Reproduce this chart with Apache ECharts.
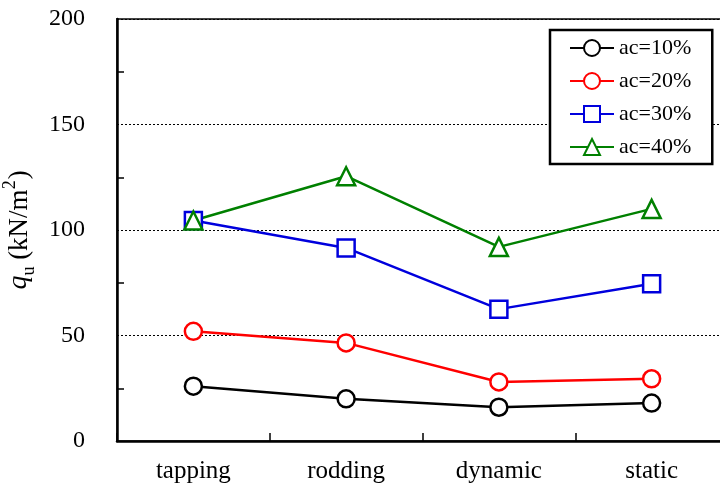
<!DOCTYPE html>
<html>
<head>
<meta charset="utf-8">
<script src="https://cdn.jsdelivr.net/npm/echarts@6/dist/echarts.min.js"></script>
<style>
  html, body { margin: 0; padding: 0; background: #fff; }
  #chart { width: 720px; height: 493px; }
</style>
</head>
<body>
<div id="chart"></div>
<script>
// Compaction methods along the x axis
var categories = ['tapping', 'rodding', 'dynamic', 'static'];

// Unconfined compressive strength q_u (kN/m2) for each ash content
var ac10 = [26, 20, 16, 18];
var ac20 = [52, 46.5, 28, 29.5];
var ac30 = [104.5, 91.5, 62.5, 74.5];
var ac40 = [104.5, 125.5, 92, 110];

var seriesNames = ['ac=10%', 'ac=20%', 'ac=30%', 'ac=40%'];
var yTicks = [0, 50, 100, 150, 200];

var FONT = '"Liberation Serif", "Times New Roman", serif';

function makeSeries(name, data, color, symbol, size) {
  return {
    name: name,
    type: 'line',
    data: data,
    symbol: symbol,
    symbolSize: size,
    showAllSymbol: true,
    lineStyle: { color: color, width: 2.5 },
    itemStyle: { color: '#fff', borderColor: color, borderWidth: 2.5 },
    emphasis: { disabled: true },
    z: 3
  };
}

var chart = echarts.init(document.getElementById('chart'), null, { renderer: 'canvas' });

chart.setOption({
  animation: false,
  backgroundColor: '#fff',
  grid: {
    left: 117, top: 19, bottom: 52, right: -8,
    outerBoundsMode: 'none',
    containLabel: false,
    show: true, borderColor: '#444', borderWidth: 2, backgroundColor: 'transparent'
  },
  legend: {
    orient: 'vertical',
    left: 550, top: 30,
    padding: [7, 21, 6, 19],
    itemGap: 11,
    itemWidth: 44,
    itemHeight: 20,
    borderColor: '#000',
    borderWidth: 2.5,
    backgroundColor: '#fff',
    data: seriesNames,
    textStyle: { fontFamily: FONT, fontSize: 22, color: '#000' }
  },
  xAxis: {
    type: 'category',
    data: categories,
    boundaryGap: true,
    axisLine: { lineStyle: { color: '#000', width: 2.5 } },
    axisTick: { show: true, inside: true, length: 8, interval: 0, lineStyle: { color: '#000', width: 1.5 } },
    axisLabel: { fontFamily: FONT, fontSize: 25, color: '#000', margin: 18, interval: 0 },
    splitLine: { show: false }
  },
  yAxis: {
    type: 'value',
    min: yTicks[0],
    max: yTicks[yTicks.length - 1],
    interval: 50,
    name: '{q|q}{sub|u}{n| (kN/m}{sup|2}{n|)}',
    nameLocation: 'middle',
    nameGap: 69,
    nameRotate: 90,
    nameTextStyle: {
      fontFamily: FONT, fontSize: 26, color: '#000',
      rich: {
        q: { fontFamily: FONT, fontSize: 28, fontStyle: 'italic', color: '#000', verticalAlign: 'bottom', lineHeight: 32 },
        sub: { fontFamily: FONT, fontSize: 18, color: '#000', verticalAlign: 'bottom', lineHeight: 32, padding: [0, 0, -5, 0] },
        n: { fontFamily: FONT, fontSize: 27, color: '#000', verticalAlign: 'bottom', lineHeight: 32 },
        sup: { fontFamily: FONT, fontSize: 18, color: '#000', verticalAlign: 'top', lineHeight: 32, padding: [0, 1, 0, 0] }
      }
    },
    axisLine: { show: true, lineStyle: { color: '#000', width: 2.5 } },
    axisTick: { show: false, inside: true },
    minorTick: { show: true, splitNumber: 2, length: 7, lineStyle: { color: '#000', width: 1.5 } },
    axisLabel: { fontFamily: FONT, fontSize: 24, color: '#000', margin: 32 },
    splitLine: { show: true, lineStyle: { color: '#000', width: 1, type: [2, 2] } }
  },
  series: [
    makeSeries(seriesNames[0], ac10, '#000000', 'circle', 17),
    makeSeries(seriesNames[1], ac20, '#ff0000', 'circle', 17),
    makeSeries(seriesNames[2], ac30, '#0000dd', 'rect', 17),
    makeSeries(seriesNames[3], ac40, '#008000', 'triangle', 18)
  ]
});
</script>
</body>
</html>
